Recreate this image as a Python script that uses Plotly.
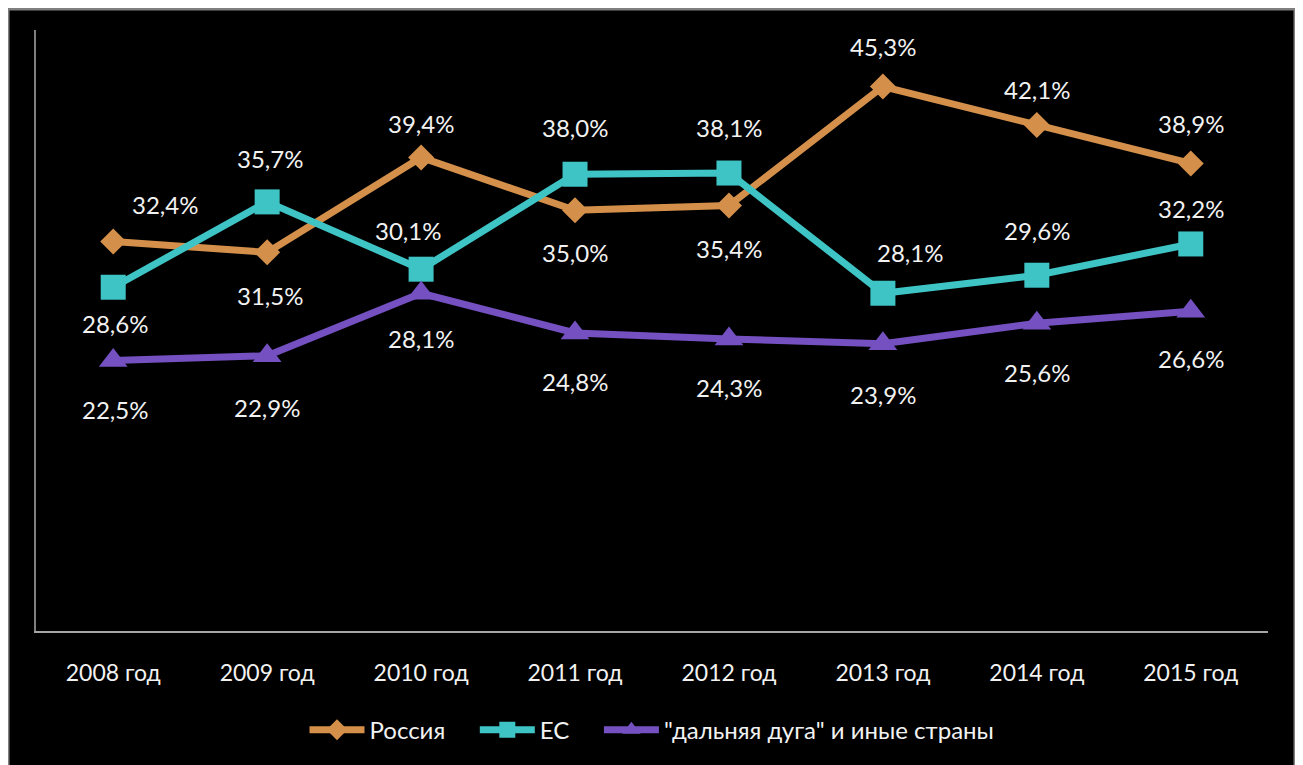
import plotly.graph_objects as go

categories = ["2008 год", "2009 год", "2010 год", "2011 год", "2012 год", "2013 год", "2014 год", "2015 год"]
russia = [32.4, 31.5, 39.4, 35.0, 35.4, 45.3, 42.1, 38.9]
eu = [28.6, 35.7, 30.1, 38.0, 38.1, 28.1, 29.6, 32.2]
far_arc = [22.5, 22.9, 28.1, 24.8, 24.3, 23.9, 25.6, 26.6]
series_names = ["Россия", "ЕС", "\"дальняя дуга\" и иные страны"]

colors = ["#D4904A", "#3FC4C6", "#7450C0"]
symbols = ["diamond", "square", "triangle-up"]
sizes = [20, 25, 25]

# label offsets in pixels (dx, dy; positive dy = up)
offsets = [
    [(52, 37), (3, -43), (0, 34), (0, -42), (0, -43), (0, 40), (0, 35), (0, 40)],
    [(2, -36), (3, 43), (-13, 39), (0, 47), (0, 46), (27, 41), (0, 45), (0, 35)],
    [(2, -49), (0, -52), (0, -45), (0, -49), (0, -49), (0, -51), (0, -49), (0, -47)],
]

FONT = "Lato"
TXT = "#F2F2F2"
PAD = "\u00a0" * 4
fig = go.Figure()
annotations = []
for i, vals in enumerate([russia, eu, far_arc]):
    legend_name = series_names[i] + (PAD if i < 2 else "")
    fig.add_trace(go.Scatter(
        x=categories, y=vals, name=legend_name, mode="lines+markers",
        line=dict(color=colors[i], width=7),
        marker=dict(symbol=symbols[i], size=sizes[i], color=colors[i],
                    line=dict(width=0)),
    ))
    for j, v in enumerate(vals):
        dx, dy = offsets[i][j]
        annotations.append(dict(
            x=categories[j], y=v, xref="x", yref="y",
            text=f"{v:.1f}%".replace(".", ","), showarrow=False,
            xshift=dx, yshift=dy,
            font=dict(family=FONT, size=24, color=TXT),
        ))

fig.update_layout(
    width=1295, height=757,
    paper_bgcolor="white", plot_bgcolor="black",
    margin=dict(l=28, r=35, t=22, b=134),
    showlegend=True,
    legend=dict(orientation="h", x=0.5, xanchor="center", y=-0.165, yanchor="middle",
                font=dict(family=FONT, size=24, color=TXT), itemwidth=55,
                bgcolor="rgba(0,0,0,0)", tracegroupgap=0),
    annotations=annotations,
    shapes=[dict(type="rect", xref="paper", yref="paper",
                 x0=-0.0227, x1=1.0219, y0=-0.3, y1=1.0349,
                 fillcolor="black", line=dict(color="#7F7F7F", width=3), layer="below")],
    xaxis=dict(showgrid=False, zeroline=False, showline=True, linecolor="#A6A6A6", linewidth=2,
               ticks="", ticklabelstandoff=20,
               tickfont=dict(family=FONT, size=23, color=TXT)),
    yaxis=dict(range=[0, 50], showgrid=False, zeroline=False, showline=True,
               linecolor="#7F7F7F", linewidth=2, showticklabels=False, ticks=""),
)

fig.write_html("out.html")
